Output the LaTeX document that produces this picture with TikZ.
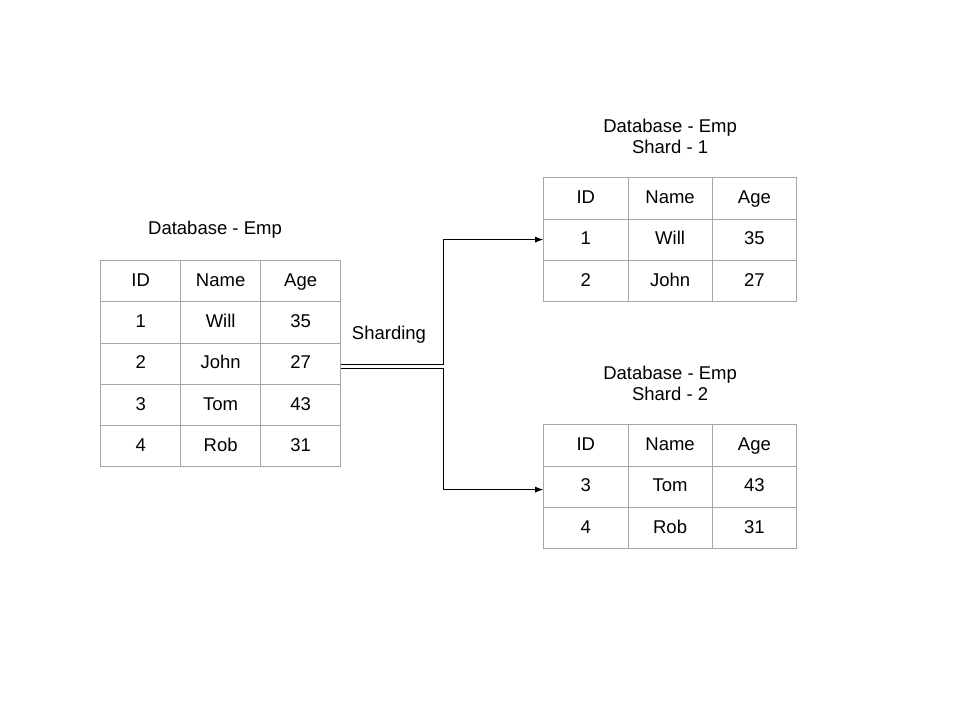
\documentclass[tikz,border=0pt]{standalone}
\usepackage{fontspec}
\setmainfont{Liberation Sans}
\usetikzlibrary{matrix,arrows.meta,positioning}
\tikzstyle{cell}=[draw=gray!70, line width=0.9pt, minimum width=80pt, minimum height=41.2pt,
    text height=13pt, text depth=2.5pt, anchor=center]
\tikzstyle{widecell}=[cell, minimum width=84.3pt, minimum height=41.3pt]
\tikzstyle{grid}=[matrix of nodes, column sep=-0.9pt, row sep=-0.9pt, inner sep=0pt,
    anchor=north west]
\tikzstyle{title}=[align=center, font=\fontsize{18.5}{21}\selectfont]
\tikzstyle{link}=[draw, line width=0.8pt, -{Latex[length=8pt,width=6pt]}]
\def\forkdist{102}

\begin{document}
\begin{tikzpicture}[x=1pt,y=-1pt, font=\fontsize{18.5}{21}\selectfont]
	\useasboundingbox (0,0) rectangle (960,720);
	% Define the tables in the picture
	\matrix (emp) [grid, nodes={cell}] at (100,260) {
	  ID & Name & Age \\
	  1 & Will & 35 \\
	  2 & John & 27 \\
	  3 & Tom & 43 \\
	  4 & Rob & 31 \\
	};
	\matrix (shard_a) [grid, nodes={widecell}] at (543,177) {
	  ID & Name & Age \\
	  1 & Will & 35 \\
	  2 & John & 27 \\
	};
	\matrix (shard_b) [grid, nodes={widecell}] at (543,424) {
	  ID & Name & Age \\
	  3 & Tom & 43 \\
	  4 & Rob & 31 \\
	};
	% Define the titles in the picture
	\node (emp_title) [title] at (215,230) {Database - Emp};
	\node (shard_a_title) [title, above=20pt of shard_a] {Database - Emp\\Shard - 1};
	\node (shard_b_title) [title, above=20pt of shard_b] {Database - Emp\\Shard - 2};
	\node (split_lbl) at (389,335) {Sharding};

	% Define the edges in the picture
	\draw [link] ([yshift=-1pt]emp.east) -- ++(\forkdist,0) |- (shard_a-2-1.west);
	\draw [link] ([yshift=-5pt]emp.east) -- ++(\forkdist,0) |- ([yshift=-3pt]shard_b-2-1.west);
\end{tikzpicture}
\end{document}
